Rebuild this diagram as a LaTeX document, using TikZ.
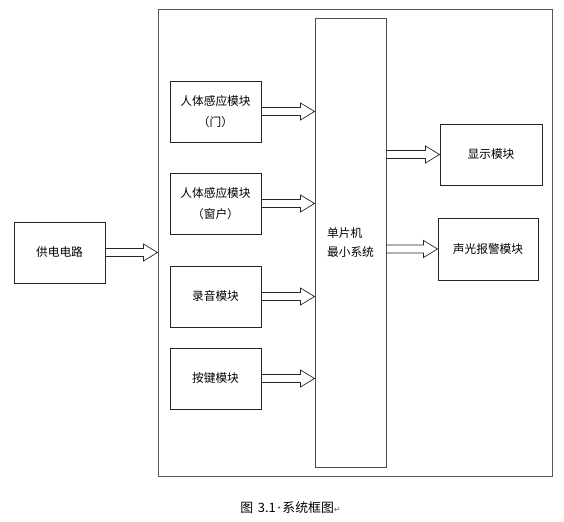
\documentclass[tikz,border=0pt]{standalone}
\usepackage{fontspec}
\setmainfont{Noto Sans CJK SC}
\newfontfamily\symfont{DejaVu Sans}
\usetikzlibrary{calc}

% hollow block arrow from #1 to #2 (horizontal)
\newcommand{\blkarrow}[2]{%
  \draw[black!85,line width=.6pt,line join=miter] let \p1=(#1), \p2=(#2) in
    (\x1,\y1+3.4pt) -- (\x2-11.9pt,\y1+3.4pt) -- (\x2-11.9pt,\y1+7.2pt) -- (\x2,\y1)
    -- (\x2-11.9pt,\y1-7.2pt) -- (\x2-11.9pt,\y1-3.4pt) -- (\x1,\y1-3.4pt);}

\begin{document}
\begin{tikzpicture}[font=\fontsize{10}{18}\selectfont,
  mod/.style={draw=black!85,line width=.8pt,inner sep=0pt,align=center}]
\useasboundingbox (0,0) rectangle (16.92,15.63);
\node[mod,draw=black!65,minimum width=11.82cm,minimum height=14.01cm] (frame) at (10.65,8.355) {};
\node[mod,minimum width=2.73cm,minimum height=1.83cm] (power) at (1.785,8.055) {供电电路};
\node[mod,draw=black!70,minimum width=2.13cm,minimum height=13.47cm,align=left,font=\fontsize{10}{16}\selectfont] (mcu) at (10.515,8.355) {单片机\\最小系统};
\node[mod,minimum width=2.73cm,minimum height=1.83cm] (door) at (6.465,12.285) {人体感应模块\\（门）};
\node[mod,minimum width=2.73cm,minimum height=1.83cm] (window) at (6.465,9.525) {人体感应模块\\（窗户）};
\node[mod,minimum width=2.73cm,minimum height=1.83cm] (record) at (6.465,6.735) {录音模块};
\node[mod,minimum width=2.73cm,minimum height=1.83cm] (key) at (6.465,4.275) {按键模块};
\node[mod,minimum width=3.06cm,minimum height=1.83cm] (display) at (14.73,10.995) {显示模块};
\node[mod,minimum width=3.00cm,minimum height=1.86cm] (alarm) at (14.64,8.16) {声光报警模块};
\blkarrow{power.east}{power.east -| frame.west}
\blkarrow{door.east}{door.east -| mcu.west}
\blkarrow{window.east}{window.east -| mcu.west}
\blkarrow{record.east}{record.east -| mcu.west}
\blkarrow{key.east}{key.east -| mcu.west}
\blkarrow{mcu.east |- display.west}{display.west}
\blkarrow{mcu.east |- alarm.west}{alarm.west}
\node[font=\fontsize{11}{14}\selectfont] (cap) at (8.72,0.39) {图\hspace{.35em}3.1\hspace{.1em}{\symfont ·}\hspace{.1em}系统框图{\symfont\fontsize{7}{8}\selectfont\color{black!60}↵}};
\end{tikzpicture}
\end{document}
